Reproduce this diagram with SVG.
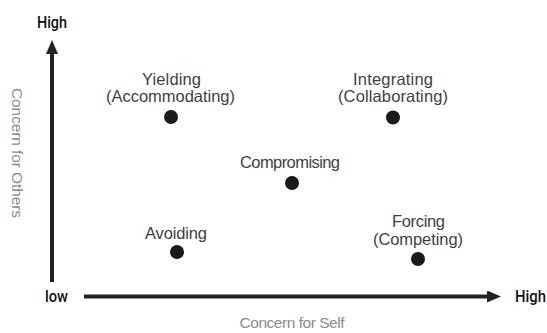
<svg xmlns="http://www.w3.org/2000/svg" width="547" height="333" viewBox="0 0 547 333">
  <style>
    .axis { stroke: #222; stroke-width: 4; fill: none; }
    .end { font-family: Roboto, "Liberation Sans", sans-serif; font-weight: 500; font-size: 16px; fill: #111; }
    .title { font-family: "Liberation Sans", Arial, sans-serif; font-size: 15.5px; fill: #8c8c8c; }
    .label { font-family: "Liberation Sans", Arial, sans-serif; font-size: 16.5px; fill: #3f3f3f; text-anchor: middle; }
    .dot { fill: #1a1a1a; }
  </style>
  <defs>
    <marker id="arrow" viewBox="0 0 14 12" refX="1" refY="6" markerWidth="14" markerHeight="12" markerUnits="userSpaceOnUse" orient="auto">
      <path d="M0,0 L14,6 L0,12 z" fill="#222"/>
    </marker>
  </defs>

  <!-- axes -->
  <g id="connectors">
    <line class="axis" x1="52" y1="282" x2="52" y2="53" marker-end="url(#arrow)"/>
    <line class="axis" x1="84" y1="296.5" x2="488" y2="296.5" marker-end="url(#arrow)"/>
  </g>

  <!-- axis end labels -->
  <text class="end" x="37" y="28" textLength="30" lengthAdjust="spacingAndGlyphs">High</text>
  <text class="end" x="45" y="302" textLength="23" lengthAdjust="spacingAndGlyphs">low</text>
  <text class="end" x="515" y="302" textLength="31" lengthAdjust="spacingAndGlyphs">High</text>

  <!-- axis titles -->
  <text class="title" transform="translate(11.5,153) rotate(90)" text-anchor="middle" textLength="130">Concern for Others</text>
  <text class="title" x="292" y="328" text-anchor="middle" textLength="105">Concern for Self</text>

  <!-- conflict styles -->
  <g id="yielding">
    <text class="label" x="171.5" y="85" textLength="59">Yielding</text>
    <text class="label" x="170.5" y="102" textLength="129">(Accommodating)</text>
    <circle class="dot" cx="171" cy="117" r="7"/>
  </g>
  <g id="integrating">
    <text class="label" x="393" y="85" textLength="80">Integrating</text>
    <text class="label" x="393" y="102" textLength="110">(Collaborating)</text>
    <circle class="dot" cx="393" cy="117.5" r="7"/>
  </g>
  <g id="compromising">
    <text class="label" x="290" y="168" textLength="100">Compromising</text>
    <circle class="dot" cx="292" cy="183" r="7"/>
  </g>
  <g id="avoiding">
    <text class="label" x="176" y="239" textLength="62">Avoiding</text>
    <circle class="dot" cx="177" cy="252" r="7"/>
  </g>
  <g id="forcing">
    <text class="label" x="418.5" y="227" textLength="53">Forcing</text>
    <text class="label" x="418" y="245" textLength="90">(Competing)</text>
    <circle class="dot" cx="418" cy="259" r="7"/>
  </g>
</svg>
